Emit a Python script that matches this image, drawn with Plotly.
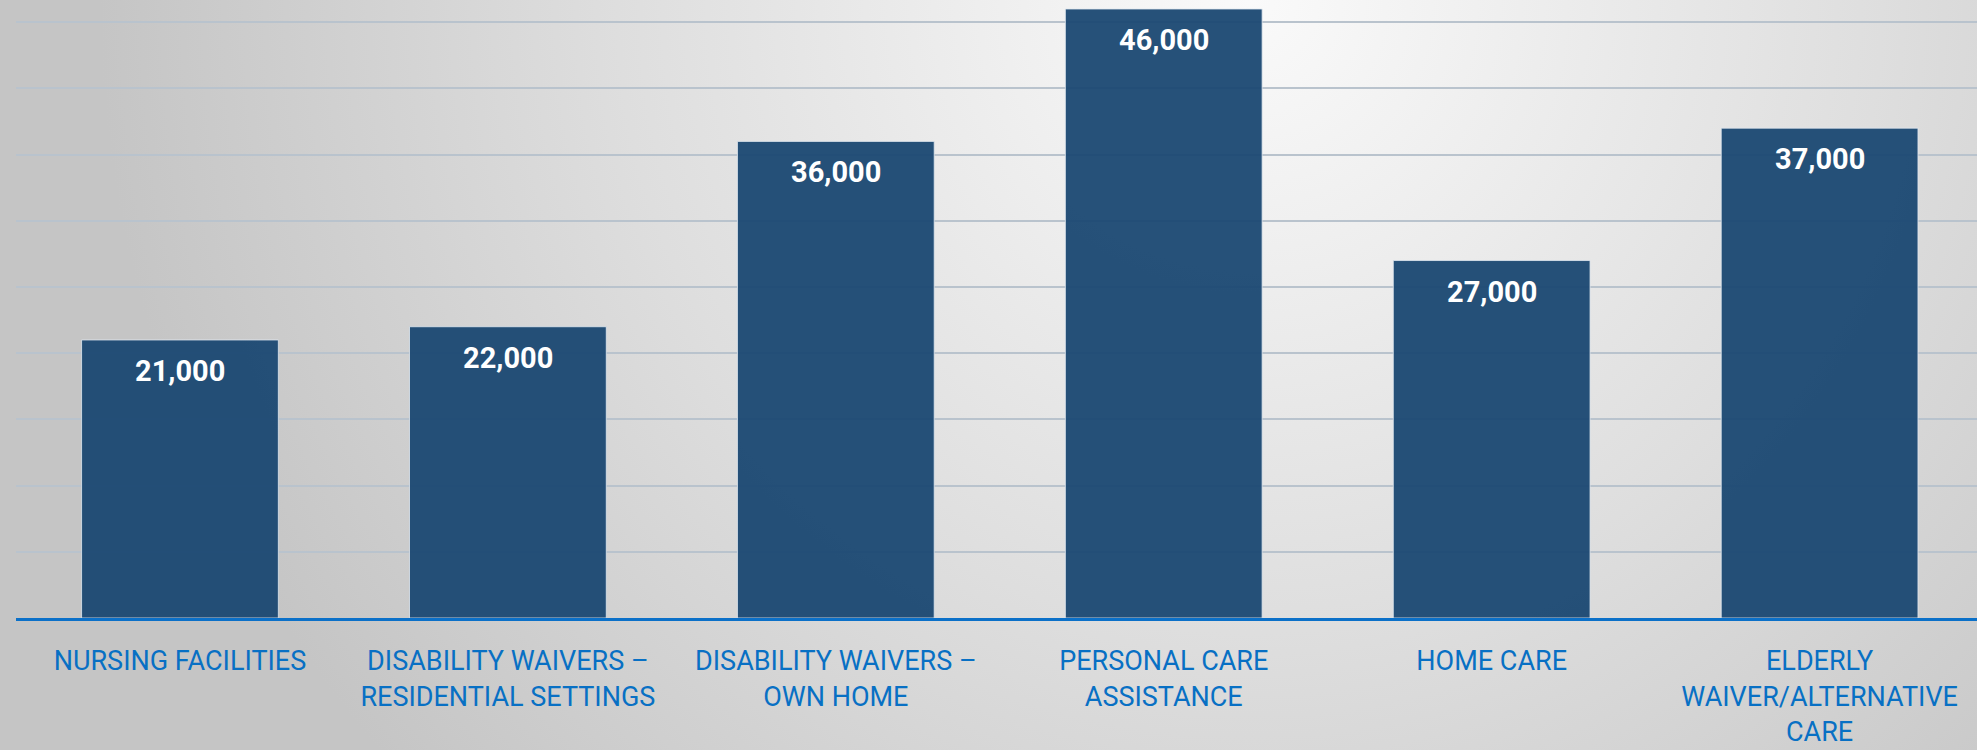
import base64
import plotly.graph_objects as go

categories = [
    "NURSING FACILITIES",
    "DISABILITY WAIVERS –<br>RESIDENTIAL SETTINGS",
    "DISABILITY WAIVERS –<br>OWN HOME",
    "PERSONAL CARE<br>ASSISTANCE",
    "HOME CARE",
    "ELDERLY<br>WAIVER/ALTERNATIVE<br>CARE",
]
values = [21000, 22000, 36000, 46000, 27000, 37000]
value_labels = ["21,000", "22,000", "36,000", "46,000", "27,000", "37,000"]

W, H = 1977, 750
ML, MB = 16, 132

svg = f'''<svg xmlns="http://www.w3.org/2000/svg" width="{W}" height="{H}" viewBox="0 0 {W} {H}">
<defs><radialGradient id="g" gradientUnits="userSpaceOnUse" cx="1250" cy="0" r="1150">
<stop offset="0" stop-color="#fafafa"/><stop offset="0.55" stop-color="#dedede"/><stop offset="1" stop-color="#c5c5c5"/>
</radialGradient></defs>
<rect width="{W}" height="{H}" fill="url(#g)"/></svg>'''
src = "data:image/svg+xml;base64," + base64.b64encode(svg.encode()).decode()

fig = go.Figure()
fig.add_trace(go.Bar(
    x=list(range(len(categories))),
    y=values,
    marker=dict(color="rgba(26,72,114,0.95)", line=dict(color="rgba(225,232,240,0.8)", width=1)),
    width=0.6,
    hoverinfo="skip",
))

for i, (v, lab) in enumerate(zip(values, value_labels)):
    fig.add_annotation(x=i, y=v, text=f"<b>{lab}</b>", showarrow=False,
                       yanchor="middle", yshift=-31,
                       font=dict(family="Roboto", size=29, color="white"))

pw = W - ML
ph = H - MB
fig.add_layout_image(dict(source=src, xref="paper", yref="paper",
                          x=-ML / pw, y=1, sizex=W / pw, sizey=H / ph,
                          xanchor="left", yanchor="top", sizing="stretch", layer="below"))

fig.update_layout(
    width=W, height=H,
    margin=dict(l=ML, r=0, t=0, b=MB),
    paper_bgcolor="#d8d8d8",
    plot_bgcolor="rgba(0,0,0,0)",
    showlegend=False,
    xaxis=dict(
        range=[-0.5, 5.48],
        tickmode="array", tickvals=list(range(len(categories))), ticktext=categories,
        tickfont=dict(family="Roboto", size=27, color="#0870c4"),
        showline=True, linecolor="#0b70c8", linewidth=3,
        ticks="outside", ticklen=17, tickcolor="rgba(0,0,0,0)",
        showgrid=False, zeroline=False, fixedrange=True,
    ),
    yaxis=dict(
        range=[0, 46680], dtick=5000, tick0=0,
        showticklabels=False, showgrid=True,
        gridcolor="#b9c3cd", gridwidth=2,
        zeroline=False, fixedrange=True,
    ),
)

fig.write_html("out.html", config={"displayModeBar": False},
               post_script="document.body.style.margin='0';document.body.style.overflow='hidden';")
